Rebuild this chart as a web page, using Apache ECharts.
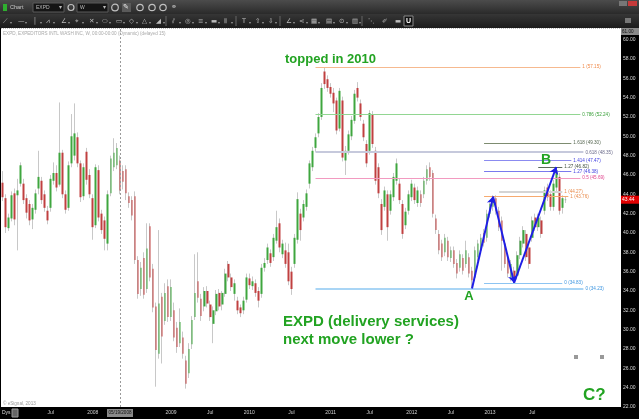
<!DOCTYPE html>
<html>
<head>
<meta charset="utf-8">
<script src="https://cdn.jsdelivr.net/npm/echarts@6/dist/echarts.min.js"></script>
<style>
  html, body { margin: 0; padding: 0; background: #000; }
  #chart { width: 639px; height: 419px; }
</style>
</head>
<body>
<div id="chart"></div>
<script>
// EXPD weekly candles
var opens = [45.2,43.6,40.5,41.5,44.1,43.9,45.1,45.1,43.6,43.0,41.4,42.4,44.6,45.4,44.0,42.3,42.6,45.4,46.2,45.0,
  48.3,44.0,42.6,47.2,48.0,49.9,47.2,43.8,48.4,46.0,43.6,40.8,46.5,42.0,41.3,38.9,44.1,46.8,47.0,47.5,
  46.4,46.6,43.8,43.4,43.8,37.2,34.2,37.4,34.2,40.7,36.3,32.4,27.5,33.4,30.9,34.5,31.3,32.0,30.2,28.6,
  29.2,26.8,25.5,28.5,31.3,35.0,33.2,32.4,34.0,32.6,30.6,31.9,33.8,32.6,33.7,36.8,35.4,33.7,33.0,32.3,
  32.0,33.1,35.3,34.5,34.8,34.0,33.7,36.4,37.2,37.9,37.5,39.2,41.0,37.8,38.2,38.0,36.0,36.8,39.3,42.0,
  41.6,42.7,45.1,46.8,48.8,50.3,52.0,56.7,55.9,55.1,54.5,53.7,50.8,53.7,47.5,48.5,50.0,51.6,55.0,53.4,
  51.3,49.2,48.5,52.2,48.5,46.8,43.0,42.7,44.0,42.3,43.7,45.4,45.1,43.0,40.8,42.3,43.7,44.7,43.1,44.0,
  44.0,45.4,46.8,46.2,41.5,39.9,38.9,38.0,39.2,37.4,38.2,36.9,36.4,37.4,36.8,37.5,36.1,35.4,37.5,38.2,
  40.0,39.5,42.0,42.7,43.6,42.3,41.3,38.9,37.4,35.4,36.1,35.6,37.7,38.9,39.9,38.5,39.5,41.6,40.6,41.3,
  42.3,44.7,44.0,42.7,44.7,45.8,42.6,43.4];
var closes = [43.7,40.6,41.6,43.9,41.4,44.4,47.0,43.4,42.1,41.3,42.6,44.1,45.8,43.4,42.6,41.3,45.6,46.2,44.7,48.3,
  44.0,42.4,47.0,50.0,50.3,47.2,43.7,46.8,45.5,44.0,40.6,46.8,41.6,40.3,39.4,44.0,47.7,48.3,48.8,44.4,
  45.3,44.1,43.1,41.8,37.2,33.7,36.4,33.6,38.4,35.4,32.3,27.9,32.7,29.3,33.8,31.3,34.4,29.2,28.2,30.8,
  27.5,24.4,28.0,31.0,33.8,33.3,31.4,34.0,32.7,31.3,32.0,33.7,32.4,33.8,35.8,35.4,34.4,34.8,32.0,31.7,
  33.0,35.4,34.6,35.0,33.8,33.0,36.4,36.9,38.5,36.9,39.5,40.6,38.5,38.9,36.8,35.0,34.2,39.5,43.5,40.3,
  43.0,44.1,47.2,48.5,49.9,52.0,55.0,55.4,55.0,54.4,53.4,50.6,54.7,47.8,48.5,50.2,51.7,54.4,54.0,52.0,
  49.9,47.2,52.4,49.2,45.4,44.1,40.3,44.4,40.6,44.0,45.8,47.2,43.4,39.9,42.2,44.0,45.1,43.4,44.4,43.1,
  45.4,46.6,45.8,42.0,40.3,38.2,37.5,39.5,37.5,38.2,36.8,35.8,37.8,36.1,38.2,35.8,35.1,38.2,38.9,39.5,
  39.0,42.0,43.0,43.6,42.3,40.6,39.2,36.8,35.8,36.8,35.2,37.7,39.2,40.3,37.5,36.8,41.3,40.6,41.6,39.9,
  44.4,43.7,42.7,45.1,46.5,42.3,43.6,43.44];
var lows = [43.3,40.0,40.2,41.2,40.8,38.2,44.8,43.0,41.5,40.8,40.4,42.0,44.0,43.0,42.2,40.9,42.2,45.0,44.3,44.8,
  43.6,42.0,42.3,46.8,47.5,46.8,43.2,43.4,45.0,43.6,39.3,40.5,41.2,39.9,38.2,38.2,43.8,46.4,46.6,44.0,
  44.5,43.4,42.6,41.3,36.8,33.2,33.5,33.2,33.8,35.0,31.8,24.1,27.0,26.5,30.5,30.8,30.9,28.8,27.6,28.2,
  27.0,23.9,25.0,28.0,31.0,32.8,30.9,31.9,32.3,30.9,28.6,31.5,32.0,32.0,33.4,35.0,34.0,33.0,31.6,31.3,
  31.6,32.8,34.2,34.1,33.4,32.3,33.3,36.0,36.8,36.5,37.1,38.9,38.0,37.4,36.4,34.6,33.6,36.4,38.9,39.2,
  41.2,42.3,44.6,46.4,48.4,49.9,51.7,54.9,54.6,54.0,52.5,50.2,50.5,47.4,46.0,48.1,49.6,51.3,53.6,51.6,
  49.5,46.8,48.1,48.8,45.0,43.6,39.8,42.3,39.2,41.9,43.3,45.0,43.0,39.4,40.4,41.9,43.3,43.0,42.7,42.7,
  43.6,45.0,45.4,41.6,39.9,37.8,37.1,37.6,37.1,37.0,36.4,35.3,36.0,35.7,36.4,35.4,34.25,35.0,37.1,37.8,
  38.6,39.1,41.6,42.3,41.9,40.2,36.1,36.4,35.4,35.0,34.85,35.2,37.3,38.5,37.1,36.3,39.1,40.2,40.2,39.5,
  41.9,43.3,42.3,42.3,44.3,41.9,42.0,43.1];
var highs = [46.4,44.0,42.0,44.3,44.6,45.6,47.3,45.6,44.0,43.4,43.0,44.5,48.5,45.8,44.4,42.8,46.0,47.3,47.0,53.5,
  48.6,44.4,47.4,52.3,53.4,50.4,47.5,47.2,48.8,46.6,44.0,47.1,47.0,42.4,41.7,44.4,48.0,49.8,49.3,48.0,
  47.0,47.0,44.2,43.8,44.3,37.6,37.0,38.0,41.0,41.0,36.8,32.8,40.3,33.8,34.8,35.2,35.2,32.8,30.8,32.2,
  29.8,27.3,28.6,31.4,37.8,38.0,33.7,34.4,34.5,33.0,32.4,34.1,34.2,34.0,36.3,37.1,35.8,35.2,33.4,32.6,
  33.4,35.8,35.8,35.5,35.2,34.4,36.8,37.4,38.9,38.3,39.9,42.3,41.5,39.3,39.0,38.9,36.5,39.9,44.2,42.5,
  43.4,44.5,47.5,48.9,50.3,52.4,55.5,57.1,56.3,55.5,55.0,54.0,55.0,54.1,49.0,50.6,52.1,54.8,55.6,53.8,
  51.7,49.6,52.7,52.6,48.9,47.2,43.5,44.8,44.4,44.4,46.2,47.7,45.6,43.4,42.6,44.4,45.5,45.1,44.8,44.4,
  45.8,47.0,47.3,46.5,41.9,40.3,39.3,39.9,39.6,38.6,38.6,37.3,38.2,37.8,39.2,37.9,36.5,38.6,39.3,39.9,
  40.4,42.4,43.4,43.9,43.9,42.7,41.7,39.3,37.8,37.2,36.5,38.1,39.6,40.7,40.3,38.9,41.7,42.0,42.0,41.7,
  44.8,45.1,44.4,45.5,46.82,46.2,43.9,43.8];

// x axis: tick positions (candle index) and their labels
var xTickIndex = [16, 30, 56, 69, 82, 96, 109, 122, 136, 149, 162, 176];
var xTickText = ['Jul', '2008', '2009', 'Jul', '2010', 'Jul', '2011', 'Jul', '2012', 'Jul', '2013', 'Jul'];

// fibonacci levels drawn on the chart
var fibPrices = [57.15, 52.24, 49.30, 48.35, 47.47, 46.82, 46.38, 45.69, 44.27, 43.76, 34.83, 34.23];
var fibNames = ['1 (57.15)', '0.786 (52.24)', '1.618 (49.30)', '0.618 (48.35)', '1.414 (47.47)', '1.27 (46.82)',
  '1.27 (46.38)', '0.5 (45.69)', '1 (44.27)', '1 (43.76)', '0 (34.83)', '0 (34.23)'];

// A-B-C-D swing pivots (candle index, price)
var swingIndex = [156, 163, 170, 184];
var swingPrice = [34.25, 43.76, 34.85, 46.82];

var lastPrice = 43.44;
var crossIndex = 39;

var fibStyle = [
  { from: 104, to: 192, line: '#f6b98f', text: '#f08a4a', w: 1 },
  { from: 104, to: 192, line: '#92d692', text: '#3aa03a', w: 1 },
  { from: 160, to: 189, line: '#7d8c70', text: '#556650', w: 1 },
  { from: 104, to: 193, line: '#c6c9dc', text: '#6c6c8c', w: 2 },
  { from: 160, to: 189, line: '#8b8bf0', text: '#3c3ce0', w: 1 },
  { from: 178, to: 186, line: '#5a6a5a', text: '#405040', w: 1 },
  { from: 160, to: 189, line: '#7a7aee', text: '#3c3ce0', w: 1 },
  { from: 104, to: 192, line: '#f29ac0', text: '#e0458f', w: 1 },
  { from: 165, to: 186, line: '#d4d4d4', text: '#e88a4a', w: 2 },
  { from: 160, to: 188, line: '#f6aa70', text: '#e88a4a', w: 1 },
  { from: 160, to: 186, line: '#8cc4f2', text: '#3a94e0', w: 1 },
  { from: 104, to: 193, line: '#a9d5f5', text: '#3a94e0', w: 2 }
];

var chart = echarts.init(document.getElementById('chart'));

var cats = [];
for (var i = 0; i < 206; i++) cats.push(String(i));

var wickData = opens.map(function (o, i) { return [o, closes[i], lows[i], highs[i]]; });
var bodyData = opens.map(function (o, i) {
  var c = closes[i];
  return [o, c, Math.min(o, c), Math.max(o, c)];
});

var fibLines = fibPrices.map(function (p, i) {
  var s = fibStyle[i];
  return [
    {
      coord: [s.from, p],
      lineStyle: { color: s.line, width: s.w, type: 'solid' },
      label: { show: true, position: 'end', distance: 2, formatter: fibNames[i], color: s.text, fontSize: 4.6, fontFamily: 'Liberation Sans' }
    },
    { coord: [s.to, p] }
  ];
});

var swingLines = [];
for (var k = 0; k < swingIndex.length - 1; k++) {
  swingLines.push([{ coord: [swingIndex[k], swingPrice[k]] }, { coord: [swingIndex[k + 1], swingPrice[k + 1]] }]);
}

var green = '#22a322';
var bigFont = 'Liberation Sans';

function label(text, x, y, size, opts) {
  opts = opts || {};
  return {
    type: 'text', z: 100, silent: true,
    style: {
      text: text, x: x, y: y, fill: opts.fill || green,
      fontSize: size, fontWeight: opts.weight || 'bold', fontFamily: opts.family || bigFont,
      align: opts.align || 'left', verticalAlign: 'middle'
    }
  };
}

// toolbar decoration
var toolbar = [
  { type: 'rect', z: 90, silent: true, shape: { x: 0, y: 0, width: 639, height: 14 },
    style: { fill: new echarts.graphic.LinearGradient(0, 0, 0, 1, [{ offset: 0, color: '#4c4c4c' }, { offset: 1, color: '#2a2a2a' }]) } },
  { type: 'rect', z: 90, silent: true, shape: { x: 0, y: 14, width: 639, height: 14 },
    style: { fill: new echarts.graphic.LinearGradient(0, 0, 0, 1, [{ offset: 0, color: '#363636' }, { offset: 1, color: '#1b1b1b' }]) } },
  { type: 'rect', z: 91, silent: true, shape: { x: 3, y: 4, width: 4, height: 7 }, style: { fill: '#2fae2f' } },
  label('Chart', 10, 7.5, 5.5, { fill: '#c8c8c8', weight: 'normal' }),
  { type: 'rect', z: 91, silent: true, shape: { x: 33, y: 3, width: 31, height: 9 }, style: { fill: '#151515', stroke: '#5a5a5a', lineWidth: 1 } },
  label('EXPD', 36, 7.5, 5, { fill: '#bbb', weight: 'normal' }),
  label('▾', 59, 7.5, 6, { fill: '#bbb', weight: 'normal', family: 'DejaVu Sans' }),
  { type: 'circle', z: 91, silent: true, shape: { cx: 71, cy: 7.5, r: 3 }, style: { fill: 'none', stroke: '#c0c0c0', lineWidth: 1.2 } },
  { type: 'rect', z: 91, silent: true, shape: { x: 77, y: 3, width: 31, height: 9 }, style: { fill: '#151515', stroke: '#5a5a5a', lineWidth: 1 } },
  label('W', 80, 7.5, 5, { fill: '#bbb', weight: 'normal' }),
  label('▾', 103, 7.5, 6, { fill: '#bbb', weight: 'normal', family: 'DejaVu Sans' }),
  { type: 'circle', z: 91, silent: true, shape: { cx: 115, cy: 7.5, r: 3.3 }, style: { fill: 'none', stroke: '#c0c0c0', lineWidth: 1.2 } },
  { type: 'rect', z: 91, silent: true, shape: { x: 122, y: 3, width: 9, height: 9 }, style: { fill: '#5a5a5a' } },
  label('✎', 123, 7.5, 7, { fill: '#eee', weight: 'normal', family: 'DejaVu Sans' }),
  { type: 'circle', z: 91, silent: true, shape: { cx: 140, cy: 7.5, r: 3.2 }, style: { fill: 'none', stroke: '#c0c0c0', lineWidth: 1.2 } },
  { type: 'circle', z: 91, silent: true, shape: { cx: 152, cy: 7.5, r: 3.2 }, style: { fill: 'none', stroke: '#c0c0c0', lineWidth: 1.2 } },
  { type: 'circle', z: 91, silent: true, shape: { cx: 163, cy: 7.5, r: 3.2 }, style: { fill: 'none', stroke: '#c0c0c0', lineWidth: 1.2 } },
  label('⚭', 171, 7.5, 7, { fill: '#c0c0c0', weight: 'normal', family: 'DejaVu Sans' }),
  { type: 'rect', z: 91, silent: true, shape: { x: 619, y: 1, width: 8, height: 5 }, style: { fill: '#777' } },
  { type: 'rect', z: 91, silent: true, shape: { x: 628, y: 1, width: 9, height: 5 }, style: { fill: '#c63a3a' } },
  { type: 'rect', z: 91, silent: true, shape: { x: 625, y: 18, width: 6, height: 5 }, style: { fill: '#777' } }
];

var toolGlyphs = ['⟋', '—', '│', '⩘', '∠', '⌖', '✕', '⬭', '▭', '◇', '△', '◢', '⫽', '◎', '≡', '▬', '⦀', 'T', '⇧', '⇩', '∠', '⋖', '▦', '▤', '⊙', '▥', '⋱', '✐', '▬'];
var toolX = [3, 18, 33, 46, 61, 75, 89, 102, 116, 129, 142, 156, 172, 185, 198, 211, 224, 242, 255, 268, 286, 299, 311, 326, 339, 352, 368, 382, 395];
toolGlyphs.forEach(function (g, i) {
  toolbar.push(label(g, toolX[i], 21, 6.5, { fill: '#bdbdbd', weight: 'normal', family: 'DejaVu Sans' }));
  if (i < 26) toolbar.push(label('▾', toolX[i] + 7, 23, 4, { fill: '#999', weight: 'normal', family: 'DejaVu Sans' }));
});
[166, 236, 280, 362].forEach(function (x) {
  toolbar.push({ type: 'line', z: 91, silent: true, shape: { x1: x, y1: 16, x2: x, y2: 26 }, style: { stroke: '#666', lineWidth: 1 } });
});
toolbar.push({ type: 'rect', z: 91, silent: true, shape: { x: 404, y: 16, width: 9, height: 10 }, style: { fill: '#111', stroke: '#888' } });
toolbar.push(label('U', 406, 21.3, 7, { fill: '#fff', weight: 'bold' }));

var overlay = [
  { type: 'line', z: 95, silent: true, shape: { x1: 1, y1: 28.5, x2: 621, y2: 28.5 }, style: { stroke: '#bbb', lineWidth: 1, lineDash: [1, 1] } },
  label('EXPD, EXPEDITORS INTL WASH INC, W, 00:00-00:00 (Dynamic) (delayed 15)', 3, 34, 4.6, { fill: '#a8a8a8', weight: 'normal' }),
  label('© eSignal, 2013', 3, 404, 4.6, { fill: '#999', weight: 'normal' }),
  label('topped in 2010', 285, 59, 13),
  label('EXPD (delivery services)', 283, 322, 15),
  label('next move lower ?', 283, 340, 15),
  label('A', 469, 296, 13, { align: 'center' }),
  label('B', 546, 160, 14, { align: 'center' }),
  label('C?', 583, 395, 17),
  { type: 'rect', z: 100, silent: true, shape: { x: 574, y: 355, width: 4, height: 4 }, style: { fill: '#999' } },
  { type: 'rect', z: 100, silent: true, shape: { x: 600, y: 355, width: 4, height: 4 }, style: { fill: '#999' } },
  // bottom bar pieces
  label('Dys', 2, 413, 5, { fill: '#ddd', weight: 'normal' }),
  { type: 'rect', z: 100, silent: true, shape: { x: 12, y: 409, width: 6, height: 8 }, style: { fill: '#666', stroke: '#999' } },
  { type: 'rect', z: 100, silent: true, shape: { x: 107, y: 409, width: 26, height: 8 }, style: { fill: '#8a8a8a' } },
  label('05/19/2008', 120, 413, 4.6, { fill: '#111', weight: 'normal', align: 'center' }),
  // top right price box
  { type: 'rect', z: 100, silent: true, shape: { x: 621, y: 28, width: 18, height: 7 }, style: { fill: '#8a8a8a' } },
  label('61.00', 622, 31.5, 4.6, { fill: '#111', weight: 'normal' })
];

chart.setOption({
  animation: false,
  backgroundColor: '#000',
  grid: { left: 1, right: 18, top: 28, bottom: 12, show: true, backgroundColor: '#fff', borderWidth: 0 },
  xAxis: {
    type: 'category',
    data: cats,
    boundaryGap: true,
    axisLine: { show: false },
    axisTick: { show: false },
    splitLine: { show: false },
    axisLabel: {
      color: '#d0d0d0', fontSize: 5, fontFamily: 'Liberation Sans', margin: 3,
      interval: function (idx) { return xTickIndex.indexOf(idx) >= 0; },
      formatter: function (v, idx) {
        var j = xTickIndex.indexOf(idx);
        return j >= 0 ? xTickText[j] : '';
      }
    }
  },
  yAxis: {
    type: 'value',
    position: 'right',
    min: 22,
    max: 61.2,
    interval: 2,
    axisLine: { show: false },
    axisTick: { show: false },
    splitLine: { show: false },
    axisLabel: {
      color: '#d8d8d8', fontSize: 5, fontFamily: 'Liberation Sans', margin: 2,
      formatter: function (v) { return (v % 2 === 0 && v <= 60) ? v.toFixed(2) : ''; }
    }
  },
  series: [
    {
      type: 'candlestick',
      data: wickData,
      barWidth: 1,
      silent: true,
      itemStyle: { color: '#c8c8c8', color0: '#c8c8c8', borderColor: '#c8c8c8', borderColor0: '#c8c8c8', borderWidth: 1 },
      markLine: {
        silent: true,
        symbol: ['none', 'none'],
        data: fibLines.concat([[
          { coord: [crossIndex, 22], lineStyle: { color: '#9a9a9a', width: 1, type: [2, 2] }, label: { show: false } },
          { coord: [crossIndex, 61.2] }
        ]])
      }
    },
    {
      type: 'candlestick',
      data: bodyData,
      barWidth: 2.2,
      silent: true,
      itemStyle: { color: '#3fa63f', color0: '#c04040', borderColor: '#3fa63f', borderColor0: '#c04040', borderWidth: 0 },
      markLine: {
        silent: true,
        symbol: ['none', 'arrow'],
        symbolSize: 7,
        lineStyle: { color: '#1e1ee6', width: 2, type: 'solid' },
        label: { show: false },
        data: swingLines
      }
    }
  ],
  graphic: toolbar.concat(overlay)
});

// price box at the last close on the right axis
var py = chart.convertToPixel({ gridIndex: 0 }, [0, lastPrice])[1];
chart.setOption({
  graphic: toolbar.concat(overlay).concat([
    { type: 'rect', z: 100, silent: true, shape: { x: 621, y: py - 4, width: 18, height: 8 }, style: { fill: '#e00000' } },
    label(lastPrice.toFixed(2), 622, py, 5, { fill: '#fff', weight: 'normal' })
  ])
});
</script>
</body>
</html>
